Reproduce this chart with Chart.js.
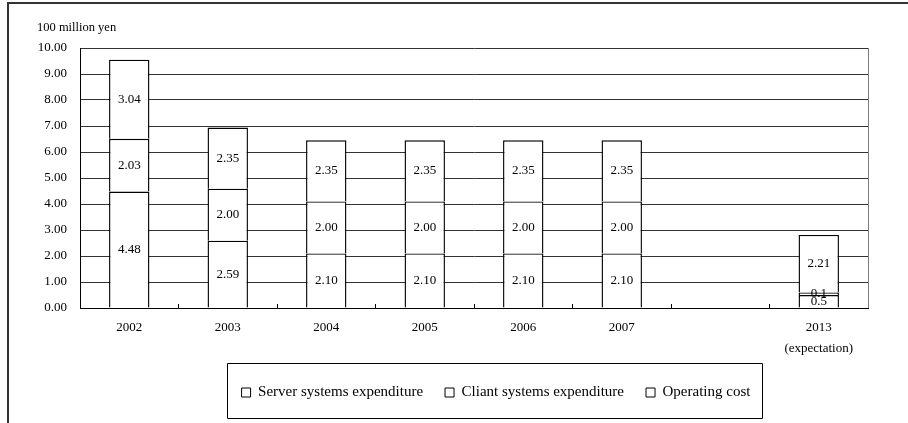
<!DOCTYPE html>
<html>
<head>
<meta charset="utf-8">
<script src="https://cdn.jsdelivr.net/npm/chart.js@4.4.0/dist/chart.umd.min.js"></script>
<style>
  html, body { margin: 0; padding: 0; background: #fff; }
</style>
</head>
<body>
<canvas id="myChart" width="908" height="423"></canvas>
<script>
// chart data
const categories = ["2002", "2003", "2004", "2005", "2006", "2007", "", ["2013", "(expectation)"]];
const serverValues = [4.48, 2.59, 2.10, 2.10, 2.10, 2.10, null, 0.5];
const cliantValues = [2.03, 2.00, 2.00, 2.00, 2.00, 2.00, null, 0.1];
const operatingValues = [3.04, 2.35, 2.35, 2.35, 2.35, 2.35, null, 2.21];
const seriesNames = ["Server systems expenditure", "Cliant systems expenditure", "Operating cost"];
// 2013 labels are printed as entered, the rest with two decimals
const labelDecimals = [2, 2, 2, 2, 2, 2, 2, null];
const unitLabel = "100 million yen";

const serif = "'Liberation Serif', 'Times New Roman', serif";

const decorations = {
  id: "decorations",
  afterLayout(chart) {
    // legend sits a little right of the plot centre
    chart.legend.left += 22;
    chart.legend.right += 22;
  },
  beforeDraw(chart) {
    const ctx = chart.ctx;
    ctx.save();
    ctx.fillStyle = "#fff";
    ctx.fillRect(0, 0, chart.width, chart.height);
    // outer frame (left + top edges visible)
    ctx.strokeStyle = "#333";
    ctx.lineWidth = 2;
    ctx.beginPath();
    ctx.moveTo(8, chart.height);
    ctx.lineTo(8, 3);
    ctx.lineTo(chart.width, 3);
    ctx.stroke();
    ctx.restore();
  },
  afterDatasetsDraw(chart) {
    const ctx = chart.ctx;
    ctx.save();
    ctx.font = "13px " + serif;
    ctx.fillStyle = "#000";
    ctx.textAlign = "center";
    ctx.textBaseline = "middle";
    chart.data.datasets.forEach((ds, di) => {
      const meta = chart.getDatasetMeta(di);
      meta.data.forEach((bar, i) => {
        const v = ds.data[i];
        if (v == null) return;
        const txt = labelDecimals[i] == null ? String(v) : v.toFixed(labelDecimals[i]);
        ctx.fillText(txt, bar.x, (bar.y + bar.base) / 2);
      });
    });
    ctx.restore();
  },
  afterDraw(chart) {
    const ctx = chart.ctx;
    const area = chart.chartArea;
    ctx.save();
    // right edge of plot
    ctx.strokeStyle = "#808080";
    ctx.lineWidth = 1;
    ctx.beginPath();
    ctx.moveTo(Math.round(area.right) + 0.5, area.top);
    ctx.lineTo(Math.round(area.right) + 0.5, area.bottom);
    ctx.stroke();
    // unit label
    ctx.font = "12.5px " + serif;
    ctx.fillStyle = "#000";
    ctx.textAlign = "left";
    ctx.textBaseline = "middle";
    ctx.fillText(unitLabel, area.left - 43, area.top - 20);
    // legend frame
    const lg = chart.legend;
    const boxes = lg.legendHitBoxes;
    if (boxes && boxes.length) {
      const l = Math.min(...boxes.map(b => b.left)) - 15;
      const r = Math.max(...boxes.map(b => b.left + b.width)) + 11;
      ctx.strokeStyle = "#000";
      ctx.beginPath();
      ctx.rect(Math.round(l) + 0.5, Math.round(lg.top) + 0.5, Math.round(r - l), 55);
      ctx.stroke();
    }
    ctx.restore();
  }
};

const data = {
  labels: categories,
  datasets: [
    { label: seriesNames[0], data: serverValues },
    { label: seriesNames[1], data: cliantValues },
    { label: seriesNames[2], data: operatingValues }
  ].map(ds => Object.assign(ds, {
    backgroundColor: "#fff",
    borderColor: "#000",
    borderWidth: 1.4,
    borderSkipped: "start",
    barPercentage: 0.41,
    categoryPercentage: 1
  }))
};

const config = {
  type: "bar",
  data: data,
  options: {
    responsive: false,
    animation: false,
    layout: { padding: { top: 48, right: 40, bottom: 13, left: 0 } },
    plugins: {
      tooltip: { enabled: false },
      legend: {
        position: "bottom",
        fullSize: false,
        labels: {
          boxWidth: 9,
          boxHeight: 9,
          padding: 22,
          color: "#000",
          font: { family: serif, size: 15 },
          generateLabels(chart) {
            const items = Chart.defaults.plugins.legend.labels.generateLabels(chart);
            items.forEach(it => { it.lineWidth = 1; });
            return items;
          }
        }
      }
    },
    scales: {
      x: {
        stacked: true,
        afterFit(scale) { scale.height = 55; },
        grid: {
          offset: true,
          drawOnChartArea: false,
          drawTicks: true,
          tickLength: -4,
          color: "#000"
        },
        border: { color: "#000", width: 1 },
        ticks: {
          padding: 13,
          color: "#000",
          maxRotation: 0,
          font: { family: serif, size: 13, lineHeight: 1.62 }
        }
      },
      y: {
        stacked: true,
        min: 0,
        max: 10,
        afterFit(scale) { scale.width = 80; },
        grid: { color: "#333", drawTicks: false },
        border: { color: "#000", width: 1 },
        ticks: {
          stepSize: 1,
          padding: 13,
          color: "#000",
          font: { family: serif, size: 13 },
          callback: v => v.toFixed(2)
        }
      }
    }
  },
  plugins: [decorations]
};

const ctx = document.getElementById("myChart").getContext("2d");
new Chart(ctx, config);
</script>
</body>
</html>
